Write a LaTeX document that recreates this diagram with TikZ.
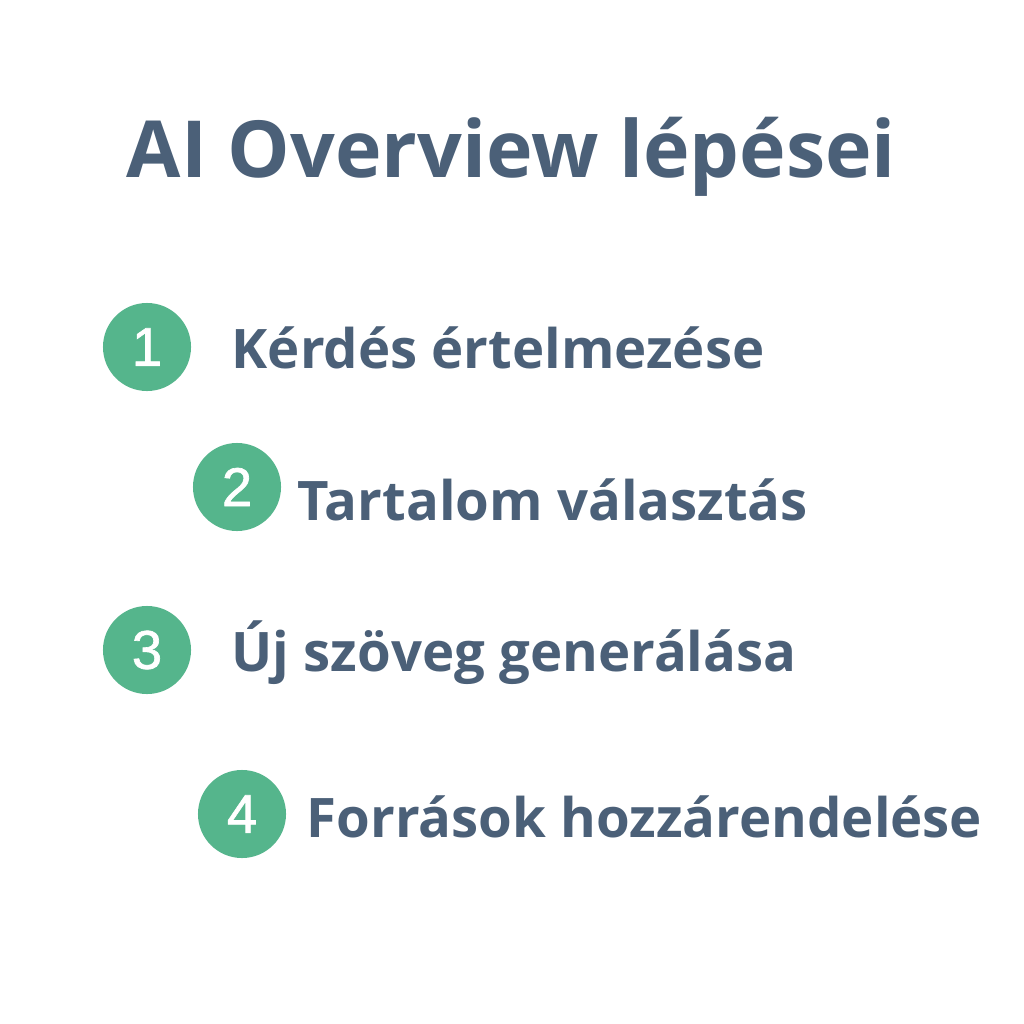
\documentclass[tikz,border=0pt]{standalone}
\usepackage{fontspec}
\setmainfont{Open Sans}
\newfontfamily\numfont[FakeBold=1.2]{Liberation Sans}
\usepackage{tikz}
\definecolor{szoveg}{HTML}{4B6078}
\definecolor{zold}{HTML}{55B58C}

\begin{document}
\begin{tikzpicture}[x=0.01cm,y=-0.01cm,
    kor/.style={circle,fill=zold,minimum size=0.88cm,inner sep=0pt,
      text=white,font=\numfont\fontsize{15.5}{18}\selectfont},
    lepes/.style={anchor=base west,inner sep=0pt,text=szoveg,
      font=\bfseries\fontsize{15.5}{19}\selectfont}]

% Hatter
\useasboundingbox[fill=white] (0,0) rectangle (1024,1024);

% Cim
\node[anchor=base west,inner sep=0pt,text=szoveg,
  font=\bfseries\fontsize{22.4}{26}\selectfont] (cim) at (126,177) {AI Overview lépései};

% Korok
\node[kor] (k1) at (147,347) {1};
\node[kor] (k2) at (237,487) {2};
\node[kor] (k3) at (147,650) {3};
\node[kor] (k4) at (242,814) {4};

% Lepesek
\node[lepes] (l1) at (231,368) {Kérdés értelmezése};
\node[lepes] (l2) at (297,520) {Tartalom választás};
\node[lepes] (l3) at (231,671) {Új szöveg generálása};
\node[lepes] (l4) at (306,837) {Források hozzárendelése};

\end{tikzpicture}
\end{document}
